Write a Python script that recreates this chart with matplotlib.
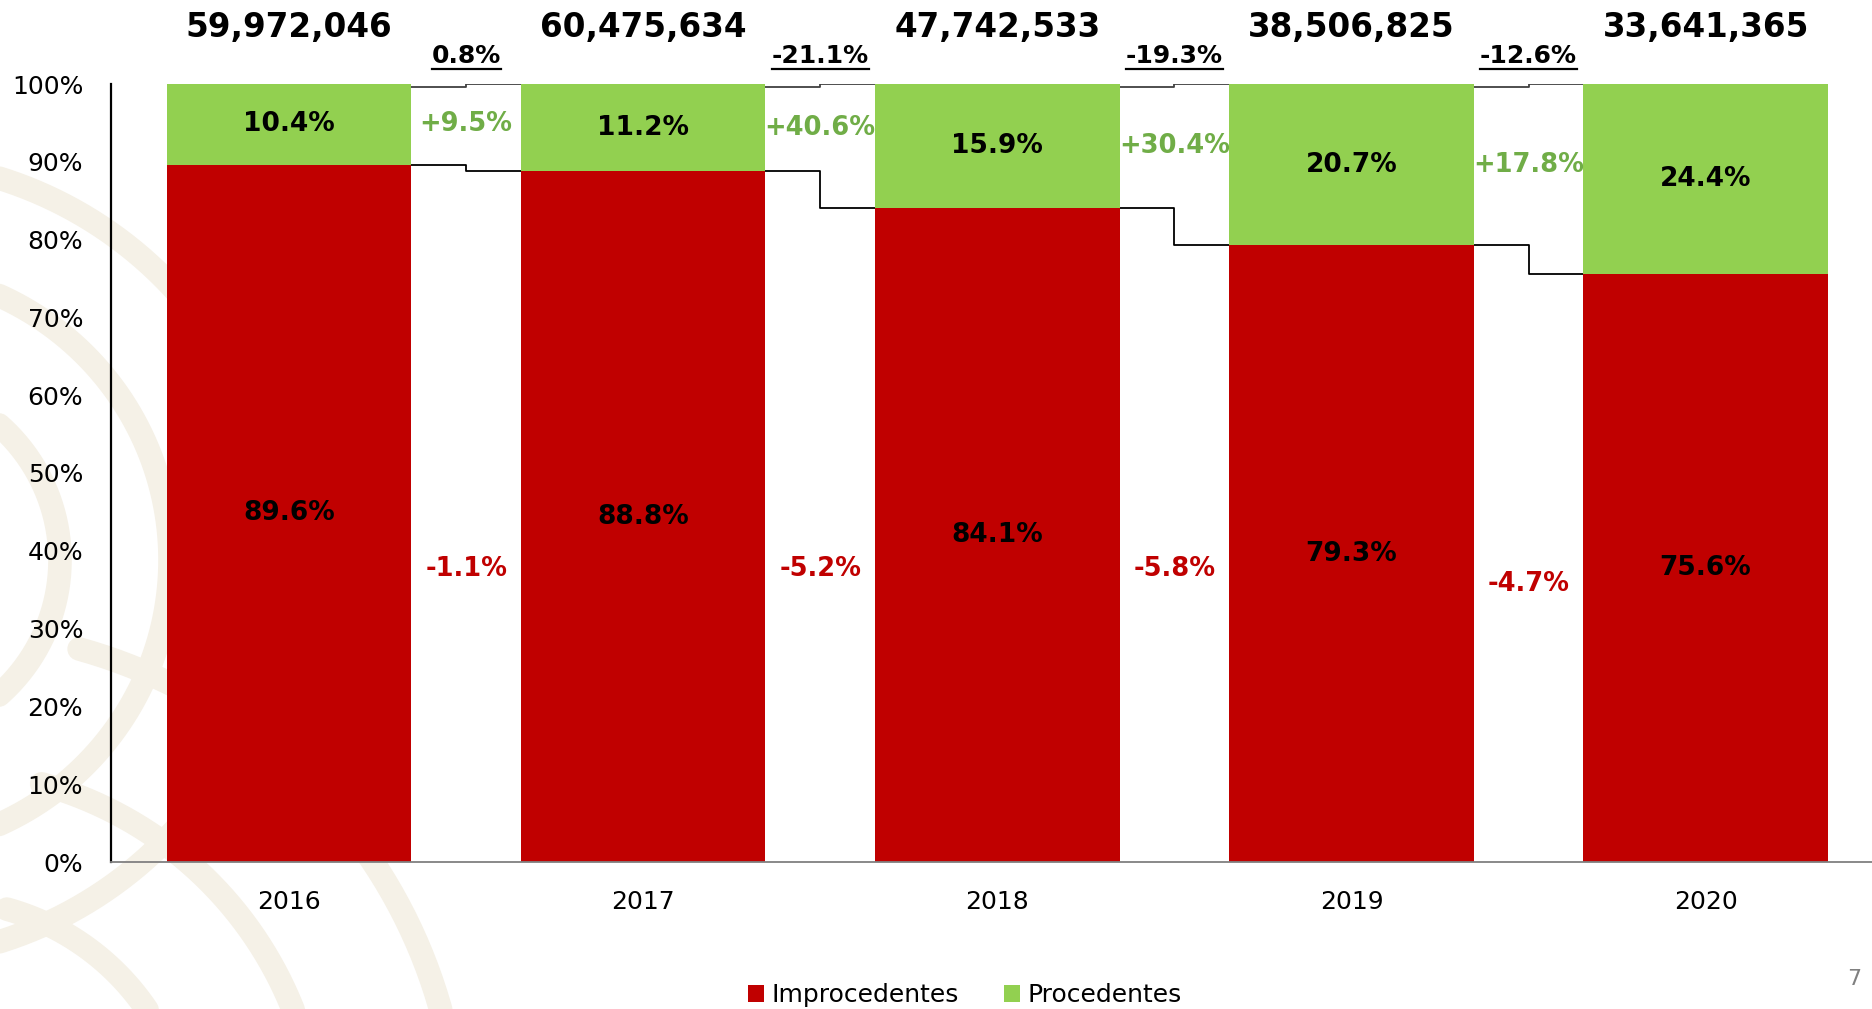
import matplotlib
matplotlib.use("Agg")
import matplotlib.pyplot as plt
from matplotlib.lines import Line2D
import numpy as np

plt.rcParams['font.family'] = ['DejaVu Sans']

# --- data ---
years = ["2016", "2017", "2018", "2019", "2020"]
totals = [59972046, 60475634, 47742533, 38506825, 33641365]
improcedentes = [89.6, 88.8, 84.1, 79.3, 75.6]
procedentes = [10.4, 11.2, 15.9, 20.7, 24.4]
proc_change = [9.5, 40.6, 30.4, 17.8]
improc_change = [-1.1, -5.2, -5.8, -4.7]

RED = "#C00000"
GREEN = "#92D050"
GREEN_TXT = "#70AD47"
BEIGE = "#F5F1E7"

W, H = 1872, 1009
fig = plt.figure(figsize=(W / 100, H / 100), dpi=100)

# faint decorative watermark on the left
bg = fig.add_axes([0, 0, 1, 1], zorder=-1)
bg.set_xlim(0, W)
bg.set_ylim(H, 0)
bg.axis("off")
th = np.linspace(-1.3, 1.3, 200)
for cx, cy, rad in [(-120, 560, 180), (-120, 560, 290), (-120, 560, 400),
                    (-60, 1150, 250), (-60, 1150, 380), (-60, 1150, 520)]:
    bg.plot(cx + rad * np.cos(th), cy + rad * np.sin(th), color=BEIGE, lw=17,
            solid_capstyle="round")

ax = fig.add_axes([111 / W, (H - 862) / H, 1 - 111 / W, (862 - 84) / H])
ax.patch.set_alpha(0)

x = np.arange(len(years))
bw = 0.69
ax.bar(x, improcedentes, bw, color=RED, label="Improcedentes", zorder=2)
ax.bar(x, procedentes, bw, bottom=improcedentes, color=GREEN, label="Procedentes", zorder=2)

ax.set_xlim(-0.503, 4.47)
ax.set_ylim(0, 100)
ax.set_yticks(np.arange(0, 101, 10))
ax.set_yticklabels([f"{v}%" for v in range(0, 101, 10)], fontsize=18)
ax.set_xticks(x)
ax.set_xticklabels(years, fontsize=18)
ax.tick_params(length=0)
ax.tick_params(axis="y", pad=20)
ax.tick_params(axis="x", pad=20)
for s in ["top", "right"]:
    ax.spines[s].set_visible(False)
ax.spines["left"].set_linewidth(1.6)
ax.spines["bottom"].set_color("#808080")
ax.spines["bottom"].set_linewidth(1.3)

# labels inside bars and totals on top
for i in x:
    ax.text(i, improcedentes[i] / 2, f"{improcedentes[i]:.1f}%", ha="center", va="center",
            fontsize=19, fontweight="bold", color="black", zorder=3)
    ax.text(i, improcedentes[i] + procedentes[i] / 2, f"{procedentes[i]:.1f}%", ha="center",
            va="center", fontsize=19, fontweight="bold", color="black", zorder=3)
    ax.text(i, 107.3, f"{totals[i]:,}", ha="center", va="center", fontsize=23.5,
            fontweight="bold", color="black", clip_on=False)

# connectors and change labels in the gaps
underline_texts = []
half = bw / 2
for i in range(len(years) - 1):
    x0, x1 = i + half, i + 1 - half
    xm = (x0 + x1) / 2
    ax.plot([x0, xm, xm, x1], [99.6, 99.6, 100, 100], color="#404040", lw=1.3, zorder=1)
    ax.plot([x0 - 0.03, xm, xm, x1], [improcedentes[i], improcedentes[i],
                                      improcedentes[i + 1], improcedentes[i + 1]],
            color="black", lw=1.3, zorder=1)
    chg = (totals[i + 1] / totals[i] - 1) * 100
    t = ax.text(xm, 103.6, f"{chg:.1f}%", ha="center", va="center", fontsize=18,
                fontweight="bold", color="black", clip_on=False)
    underline_texts.append(t)
    ax.text(xm, improcedentes[i] + procedentes[i] / 2, f"+{proc_change[i]:.1f}%",
            ha="center", va="center", fontsize=18.5, fontweight="bold", color=GREEN_TXT)
    red_y = 37.7 if i < 3 else 35.7
    ax.text(xm, red_y, f"{improc_change[i]:.1f}%", ha="center", va="center", fontsize=18.5,
            fontweight="bold", color=RED)

# underline the total-change labels
fig.canvas.draw()
r = fig.canvas.get_renderer()
for t in underline_texts:
    bb = t.get_window_extent(r)
    yy = (bb.y0 - 1) / H
    fig.add_artist(Line2D([bb.x0 / W, bb.x1 / W], [yy, yy], color="black", lw=1.6))

leg = fig.legend(loc="center", bbox_to_anchor=(965 / W, 1 - 995 / H), ncol=2, frameon=False,
                 fontsize=18, handlelength=0.65, handleheight=0.65, handletextpad=0.3,
                 columnspacing=1.8)

fig.text(1854 / W, 1 - 979 / H, "7", fontsize=16, color="#808080", ha="center", va="center")

fig.savefig("out.png", dpi=100)
